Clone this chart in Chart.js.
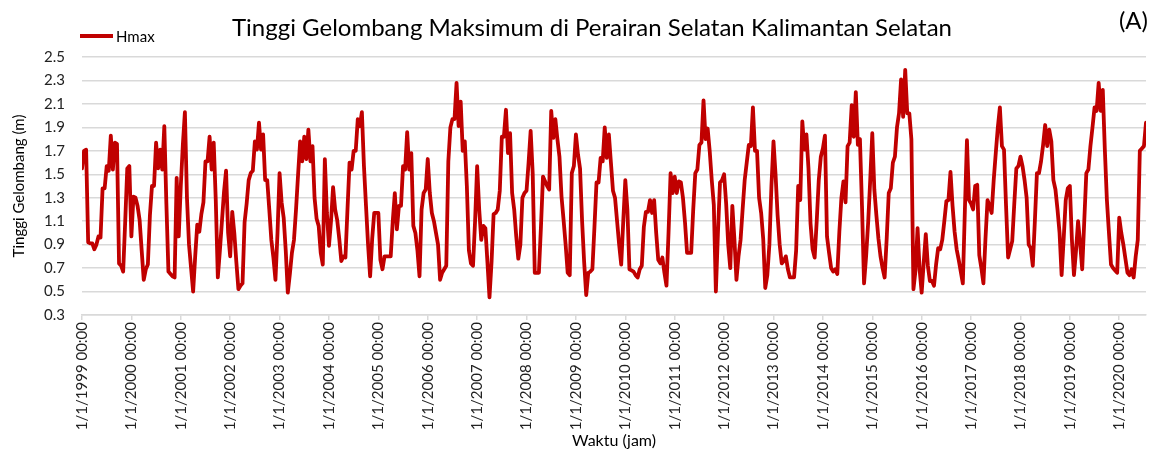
<!DOCTYPE html>
<html>
<head>
<meta charset="utf-8">
<title>Tinggi Gelombang Maksimum</title>
<script src="https://cdn.jsdelivr.net/npm/chart.js@4.4.1/dist/chart.umd.min.js"></script>
<style>
    html, body { margin: 0; padding: 0; background: #ffffff; }
    #wadah { width: 1155px; height: 450px; }
</style>
</head>
<body>
<div id="wadah"><canvas id="grafikHmax" width="1155" height="450"></canvas></div>
<script>
// data: 24 titik per tahun (setengah bulanan)
var tahun = [1999, 2000, 2001, 2002, 2003, 2004, 2005, 2006, 2007, 2008, 2009,
             2010, 2011, 2012, 2013, 2014, 2015, 2016, 2017, 2018, 2019, 2020];
var labelWaktu = tahun.map(function (t) { return "1/1/" + t + " 00:00"; });
var titikPerTahun = 24;

var hmax = [
    // 1999
    1.55, 1.70, 1.71, 0.92, 0.91, 0.91, 0.86, 0.90, 0.97, 0.96, 1.38, 1.38, 1.57, 1.53, 1.83, 1.54, 1.77, 1.76, 0.74, 0.72, 0.67, 1.10, 1.55, 1.57,
    // 2000
    0.97, 1.31, 1.30, 1.23, 1.11, 0.85, 0.60, 0.69, 0.73, 1.15, 1.40, 1.40, 1.77, 1.55, 1.71, 1.54, 1.91, 1.25, 0.67, 0.65, 0.63, 0.62, 1.47, 0.97,
    // 2001
    1.40, 1.75, 2.03, 1.30, 0.90, 0.70, 0.50, 0.80, 1.07, 1.01, 1.16, 1.26, 1.61, 1.61, 1.82, 1.54, 1.77, 1.28, 0.62, 0.85, 1.10, 1.35, 1.53, 1.00,
    // 2002
    0.80, 1.18, 1.00, 0.75, 0.52, 0.55, 0.57, 1.09, 1.25, 1.45, 1.51, 1.53, 1.78, 1.71, 1.94, 1.71, 1.84, 1.45, 1.45, 1.20, 0.94, 0.79, 0.60, 1.00,
    // 2003
    1.51, 1.26, 1.13, 0.85, 0.49, 0.65, 0.83, 0.94, 1.20, 1.50, 1.78, 1.61, 1.82, 1.63, 1.88, 1.61, 1.74, 1.30, 1.12, 1.06, 0.83, 0.73, 1.63, 1.17,
    // 2004
    0.89, 1.10, 1.39, 1.20, 1.11, 0.95, 0.76, 0.80, 0.79, 1.20, 1.60, 1.54, 1.70, 1.70, 1.97, 1.91, 2.03, 1.57, 1.23, 0.90, 0.63, 0.95, 1.17, 1.17,
    // 2005
    1.17, 0.77, 0.69, 0.80, 0.80, 0.80, 0.80, 1.10, 1.34, 1.03, 1.23, 1.23, 1.57, 1.54, 1.86, 1.54, 1.68, 1.06, 1.00, 0.85, 0.63, 1.20, 1.34, 1.37,
    // 2006
    1.63, 1.34, 1.17, 1.10, 1.00, 0.90, 0.60, 0.66, 0.69, 0.72, 1.61, 1.90, 1.97, 1.97, 2.28, 1.91, 2.12, 1.70, 1.78, 1.40, 0.85, 0.74, 0.72, 1.10,
    // 2007
    1.57, 1.20, 0.94, 1.06, 1.04, 0.75, 0.45, 0.75, 1.16, 1.17, 1.20, 1.36, 1.82, 1.82, 2.05, 1.68, 1.85, 1.34, 1.20, 0.97, 0.78, 0.90, 1.30, 1.34,
    // 2008
    1.36, 1.60, 1.87, 1.51, 0.66, 0.66, 0.66, 1.05, 1.48, 1.44, 1.40, 1.37, 2.04, 1.81, 1.97, 1.80, 1.65, 1.31, 1.11, 0.90, 0.66, 0.64, 1.51, 1.57,
    // 2009
    1.84, 1.67, 1.55, 1.10, 0.75, 0.47, 0.66, 0.67, 0.69, 1.05, 1.43, 1.43, 1.64, 1.61, 1.90, 1.64, 1.84, 1.60, 1.36, 1.30, 1.10, 0.90, 0.73, 1.10,
    // 2010
    1.45, 1.20, 0.69, 0.68, 0.67, 0.64, 0.62, 0.69, 0.72, 1.05, 1.18, 1.18, 1.28, 1.17, 1.28, 1.00, 0.77, 0.74, 0.79, 0.66, 0.55, 1.00, 1.51, 1.34,
    // 2011
    1.48, 1.34, 1.44, 1.43, 1.30, 1.09, 0.83, 0.83, 0.83, 1.20, 1.51, 1.54, 1.75, 1.77, 2.13, 1.80, 1.89, 1.70, 1.45, 1.24, 0.50, 1.00, 1.43, 1.45,
    // 2012
    1.50, 1.25, 0.90, 0.70, 1.23, 0.95, 0.60, 0.80, 0.94, 1.20, 1.45, 1.60, 1.75, 1.74, 2.07, 1.70, 1.70, 1.30, 1.17, 0.95, 0.53, 0.64, 0.90, 1.40,
    // 2013
    1.78, 1.50, 1.15, 0.90, 0.74, 0.76, 0.80, 0.69, 0.62, 0.62, 0.62, 0.85, 1.40, 1.28, 1.95, 1.71, 1.84, 1.55, 1.08, 0.86, 0.79, 1.10, 1.45, 1.65,
    // 2014
    1.72, 1.83, 0.97, 0.83, 0.70, 0.67, 0.69, 0.65, 1.01, 1.30, 1.44, 1.26, 1.74, 1.77, 2.09, 1.82, 2.20, 1.75, 1.80, 1.23, 0.57, 0.80, 1.09, 1.45,
    // 2015
    1.85, 1.37, 1.15, 0.95, 0.80, 0.70, 0.62, 0.95, 1.34, 1.38, 1.60, 1.65, 1.90, 2.02, 2.31, 1.99, 2.39, 2.02, 2.02, 1.80, 0.52, 0.68, 1.04, 0.69,
    // 2016
    0.49, 0.75, 0.99, 0.72, 0.59, 0.59, 0.55, 0.73, 0.87, 0.86, 0.94, 1.10, 1.27, 1.28, 1.52, 1.23, 1.01, 0.86, 0.77, 0.67, 0.57, 1.20, 1.79, 1.28,
    // 2017
    1.25, 1.20, 1.40, 1.41, 0.81, 0.70, 0.57, 0.95, 1.28, 1.23, 1.17, 1.45, 1.68, 1.90, 2.07, 1.74, 1.71, 1.23, 0.79, 0.86, 0.93, 1.25, 1.55, 1.57,
    // 2018
    1.65, 1.57, 1.45, 1.30, 0.90, 0.87, 0.72, 1.10, 1.51, 1.51, 1.61, 1.75, 1.92, 1.74, 1.88, 1.78, 1.45, 1.37, 1.20, 1.00, 0.64, 0.95, 1.28, 1.38,
    // 2019
    1.40, 0.94, 0.64, 0.85, 1.10, 0.91, 0.69, 1.10, 1.51, 1.54, 1.74, 1.90, 2.07, 2.04, 2.28, 2.04, 2.22, 1.71, 1.28, 1.00, 0.73, 0.70, 0.68, 0.66,
    // 2020 (sampai pertengahan tahun)
    1.13, 1.00, 0.90, 0.78, 0.66, 0.64, 0.69, 0.62, 0.80, 0.94, 1.70, 1.72, 1.74, 1.94
];

var sumbuY = { min: 0.3, max: 2.5, langkah: 0.2 };

var judul = "Tinggi Gelombang Maksimum di Perairan Selatan Kalimantan Selatan";
var labelPanel = "(A)";
var namaSeri = "Hmax";
var merah = "#c00000";
var abu = "#d9d9d9";
var huruf = "Lato, 'Open Sans', sans-serif";

// judul, legenda dan label panel digambar di atas area plot
var kepala = {
    id: "kepala",
    afterDraw: function (chart) {
        var ctx = chart.ctx;
        var ds = chart.data.datasets[0];
        ctx.save();
        ctx.fillStyle = "#000";
        ctx.textBaseline = "alphabetic";
        ctx.font = "24px " + huruf;
        ctx.textAlign = "center";
        ctx.fillText(judul, 592, 36);

        ctx.font = "24px " + huruf;
        ctx.textAlign = "right";
        ctx.fillText(labelPanel, 1148, 29);

        ctx.strokeStyle = ds.borderColor;
        ctx.lineWidth = 4;
        ctx.beginPath();
        ctx.moveTo(80, 36);
        ctx.lineTo(113, 36);
        ctx.stroke();

        ctx.font = "15px " + huruf;
        ctx.textAlign = "left";
        ctx.textBaseline = "middle";
        ctx.fillText(ds.label, 116, 37);
        ctx.restore();
    }
};

var ctx = document.getElementById("grafikHmax").getContext("2d");
var grafik = new Chart(ctx, {
    type: "line",
    data: {
        datasets: [{
            label: namaSeri,
            data: hmax.map(function (v, i) { return { x: i, y: v }; }),
            borderColor: merah,
            backgroundColor: merah,
            borderWidth: 3.8,
            borderJoinStyle: "round",
            borderCapStyle: "round",
            pointRadius: 0,
            fill: false,
            tension: 0
        }]
    },
    options: {
        responsive: false,
        animation: false,
        devicePixelRatio: 1,
        layout: { padding: { top: 57, right: 9, left: 0, bottom: 0 } },
        plugins: {
            legend: { display: false },
            tooltip: { enabled: false }
        },
        scales: {
            x: {
                type: "linear",
                min: 0,
                max: hmax.length - 1,
                border: { display: true, color: abu, width: 1.5 },
                grid: { drawOnChartArea: false, drawTicks: true, tickLength: 5, color: abu, lineWidth: 1.5 },
                ticks: {
                    stepSize: titikPerTahun,
                    includeBounds: false,
                    autoSkip: false,
                    minRotation: 90,
                    maxRotation: 90,
                    padding: 2,
                    color: "#222",
                    font: { family: huruf, size: 15 },
                    callback: function (v) {
                        var k = v / titikPerTahun;
                        return Number.isInteger(k) && k < labelWaktu.length ? labelWaktu[k] : null;
                    }
                },
                title: {
                    display: true,
                    text: "Waktu (jam)",
                    color: "#000",
                    font: { family: huruf, size: 16 },
                    padding: { top: 0, bottom: 0 }
                },
                afterFit: function (s) {
                    s.height = 135;
                    s.paddingLeft = 0;
                    s.paddingRight = 0;
                }
            },
            y: {
                min: sumbuY.min,
                max: sumbuY.max,
                border: { display: false },
                grid: { color: abu, lineWidth: 1.5, drawTicks: false },
                ticks: {
                    stepSize: sumbuY.langkah,
                    padding: 17,
                    color: "#222",
                    font: { family: huruf, size: 15 },
                    callback: function (v) { return v.toFixed(1); }
                },
                title: {
                    display: true,
                    text: "Tinggi Gelombang (m)",
                    color: "#000",
                    font: { family: huruf, size: 15 },
                    padding: { top: 10, bottom: 0 }
                },
                afterFit: function (s) { s.width = 82; }
            }
        }
    },
    plugins: [kepala]
});
</script>
</body>
</html>
